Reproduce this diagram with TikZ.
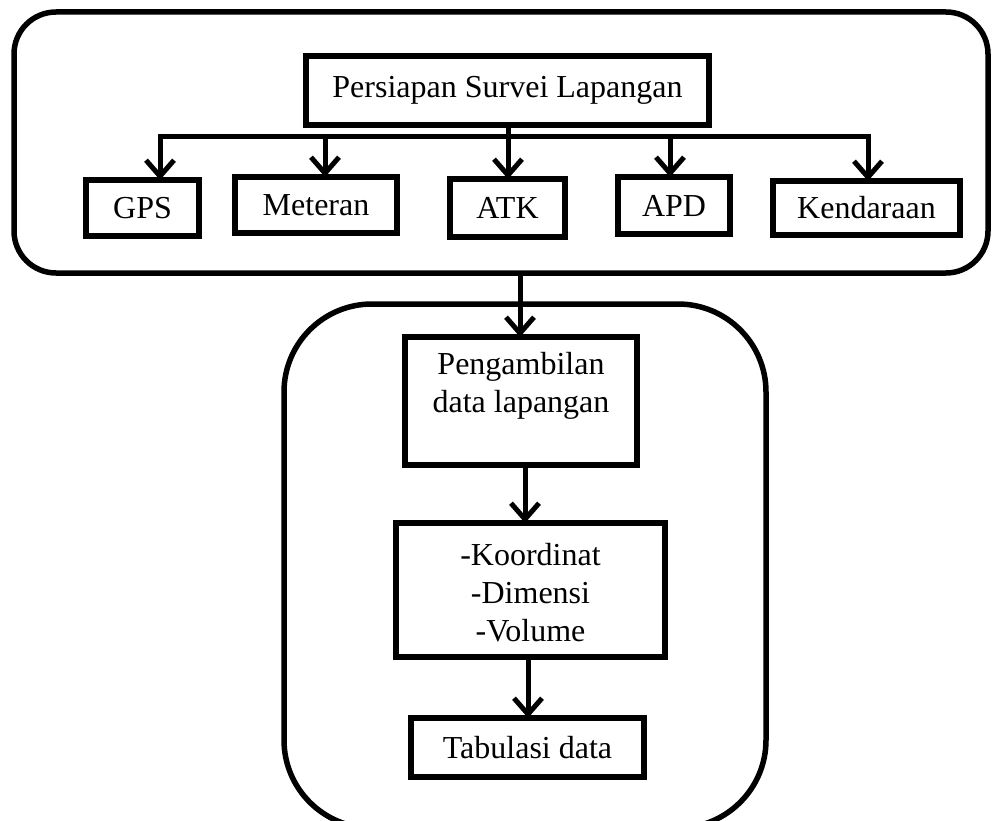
\documentclass[tikz,border=0pt]{standalone}
\usepackage{fontspec}
\setmainfont{Liberation Serif}
\usetikzlibrary{arrows.meta,positioning,calc}
\begin{document}
\begin{tikzpicture}[x=1pt,y=-1pt,
  every node/.style={inner sep=0pt, outer sep=0pt},
  box/.style={draw, line width=6pt, rectangle, align=center,
    font=\fontsize{32}{38}\selectfont},
  txt/.style={align=center, font=\fontsize{32}{38}\selectfont},
  group/.style={draw, line width=5.5pt, rectangle},
  flow/.style={line width=5pt, -{Straight Barb[length=16pt,width=28pt,line width=5pt]}},
  bus/.style={line width=5pt}]
\useasboundingbox (0,0) rectangle (993,821);

% outer groups
\draw[group, rounded corners=42pt] (14,12) rectangle (988,273);
\coordinate (prepS) at (520,273);
\draw[group, rounded corners=88pt] (284,304) rectangle (766,828);

% preparation stage
\node[box, minimum width=403pt, minimum height=69pt] (pers) at (507.5,90.5) {Persiapan Survei Lapangan};
\node[box, minimum width=113pt, minimum height=56pt] (gps) at (142.5,208) {GPS};
\node[box, minimum width=162pt, minimum height=56pt] (met) at (316,205) {Meteran};
\node[box, minimum width=115pt, minimum height=58pt] (atk) at (507.5,208) {ATK};
\node[box, minimum width=112pt, minimum height=57pt] (apd) at (674,205.5) {APD};
\node[box, minimum width=187pt, minimum height=54pt] (ken) at (866.5,208) {Kendaraan};

% distribution bus
\coordinate (b1) at (160,137);
\coordinate (b2) at (325,137);
\coordinate (b3) at (508,137);
\coordinate (b4) at (670,137);
\coordinate (b5) at (868,137);
\draw[bus] ($(b1)+(-2.5,0)$) -- ($(b5)+(2.5,0)$);
\draw[bus] (pers.south -| b3) -- (b3);
\draw[flow] (b1) -- (b1 |- gps.north);
\draw[flow] (b2) -- (b2 |- met.north);
\draw[flow] (b3) -- (b3 |- atk.north);
\draw[flow] (b4) -- (b4 |- apd.north);
\draw[flow] (b5) -- (b5 |- ken.north);

% field stage
\node[box, minimum width=232pt, minimum height=128pt] (peng) at (521,401) {};
\node[txt] (pengT) at (521,386) {Pengambilan\\data lapangan};
\node[box, minimum width=269pt, minimum height=134pt] (koor) at (530.5,590) {};
\node[txt] (koorT) at (530.5,593) {-Koordinat\\-Dimensi\\-Volume};
\node[box, minimum width=233pt, minimum height=59pt] (tab) at (527.5,747.5) {Tabulasi data};

\coordinate (x1) at (525,0);
\coordinate (x2) at (528,0);
\draw[flow] (prepS) -- (prepS |- peng.north);
\draw[flow] (peng.south -| x1) -- (koor.north -| x1);
\draw[flow] (koor.south -| x2) -- (tab.north -| x2);
\end{tikzpicture}
\end{document}
